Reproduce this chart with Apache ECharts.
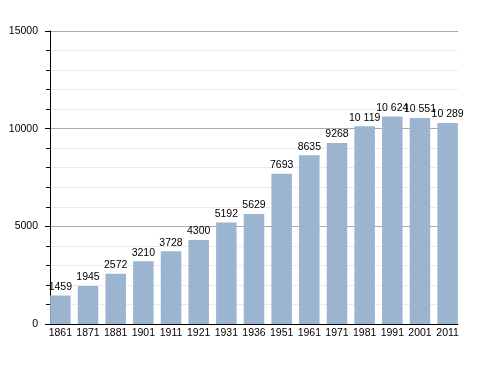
<!DOCTYPE html>
<html><head><meta charset="utf-8">
<script src="https://cdn.jsdelivr.net/npm/echarts@6/dist/echarts.min.js"></script>
<style>html,body{margin:0;padding:0;background:#fff}#c{width:488px;height:373px}</style>
</head><body><div id="c"></div>
<script>
const years = ['1861','1871','1881','1901','1911','1921','1931','1936','1951','1961','1971','1981','1991','2001','2011'];
const population = [1459,1945,2572,3210,3728,4300,5192,5629,7693,8635,9268,10119,10624,10551,10289];
const yTicks = [0,5000,10000,15000];

function fmt(v){
  return v >= 10000 ? String(v).replace(/\B(?=(\d{3})+(?!\d))/g,' ') : String(v);
}
const idx = years.map((_, i) => i);
const FONT = 'Liberation Sans, Arial, sans-serif';
const chart = echarts.init(document.getElementById('c'), null, {renderer:'canvas'});
chart.setOption({
  animation:false,
  textStyle:{fontFamily:FONT},
  grid:{left:50, right:30, top:31, bottom:49, containLabel:false},
  xAxis:{
    type:'value', min:-0.375, max:years.length-1+0.375,
    axisLine:{show:true, onZero:false, lineStyle:{color:'#000', width:1}},
    axisTick:{show:false},
    splitLine:{show:false},
    axisLabel:{customValues:idx, formatter:v=>years[Math.round(v)], color:'#000', fontSize:10.5, margin:4, fontFamily:FONT}
  },
  yAxis:{
    type:'value', min:yTicks[0], max:yTicks[yTicks.length-1], interval:5000,
    axisLine:{show:true, onZero:false, lineStyle:{color:'#000', width:1}},
    axisTick:{show:true, length:5, lineStyle:{color:'#000'}},
    minorTick:{show:true, splitNumber:5, length:4, lineStyle:{color:'#000'}},
    splitLine:{show:true, lineStyle:{color:'#aaaaaa', width:1}},
    minorSplitLine:{show:true, lineStyle:{color:'#ebebeb', width:1}},
    axisLabel:{color:'#000', fontSize:10.5, margin:12, fontFamily:FONT, formatter:v=>String(v)}
  },
  series:[{
    type:'bar',
    data: population.map((v,i)=>[i,v]),
    barWidth:20.5,
    itemStyle:{color:'#9bb4d0'},
    label:{show:true, position:'top', distance:3, color:'#000', fontSize:10.5,
      fontFamily:FONT,
      formatter:p=>fmt(p.value[1])}
  }]
});
</script></body></html>
